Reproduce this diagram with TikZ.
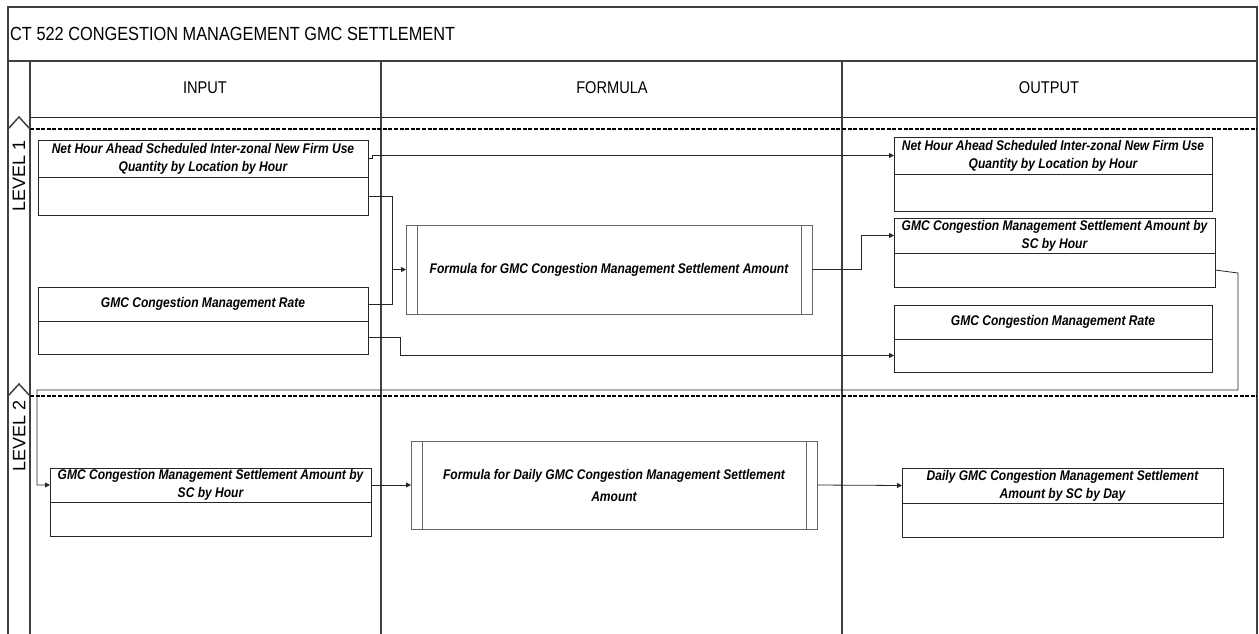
\documentclass[tikz,border=0pt]{standalone}
\usepackage{fontspec}
\setmainfont{Liberation Sans}[FakeStretch=0.86]
\newfontfamily\lvlfont{Liberation Sans}
\usetikzlibrary{arrows.meta}
\newcommand\boxfont{\fontsize{14}{18}\selectfont\bfseries\itshape}
\begin{document}
\begin{tikzpicture}[x=1pt,y=-1pt,
  lane/.style={draw=black!75, line width=1.5pt},
  sepline/.style={draw=black, line width=2.2pt, dash pattern=on 4pt off 1.6pt},
  dbox/.style={draw=black!85, line width=0.9pt, inner sep=1pt, outer sep=0pt, anchor=north west, align=center, font=\boxfont},
  fbox/.style={draw=black!60, line width=1pt, inner sep=1pt, outer sep=0pt, anchor=north west, align=center, font=\boxfont},
  conn/.style={draw=black!85, line width=0.8pt},
  arr/.style={conn, -{Triangle[length=5pt,width=5pt]}},
  hdr/.style={font=\fontsize{17}{20}\selectfont, inner sep=0pt},
  lvl/.style={font=\lvlfont\fontsize{18}{20}\selectfont, rotate=90, inner sep=0pt}
]
\useasboundingbox (0,0) rectangle (1259,634);
% frame
\draw[lane] (8,634) -- (8,7) -- (1257,7) -- (1257,634);
\draw[lane] (8,61) -- (1257,61);
\draw[draw=black!85, line width=1pt] (30,117) -- (1257,117);
\draw[lane] (30,61) -- (30,634);
\draw[lane] (381,61) -- (381,634);
\draw[lane] (842,61) -- (842,634);
\node[anchor=west, font=\fontsize{19}{22}\selectfont, inner sep=0pt] (title) at (10,34) {CT 522 CONGESTION MANAGEMENT GMC SETTLEMENT};
\node[hdr] (hin) at (205,88) {INPUT};
\node[hdr] (hfo) at (612,88) {FORMULA};
\node[hdr] (hout) at (1049,88) {OUTPUT};
% levels
\draw[sepline] (30,129) -- (1257,129);
\draw[sepline] (30,396) -- (1257,396);
\draw[lane, line join=miter] (8,129) -- (19,117) -- (30,129);
\draw[lane, line join=miter] (8,396) -- (19,384) -- (30,396);
\node[lvl] (lv1) at (19,176) {LEVEL 1};
\node[lvl] (lv2) at (19,436) {LEVEL 2};
% level 1 boxes
\node[dbox, minimum width=330pt, minimum height=37pt] (in1t) at (38,140) {Net Hour Ahead Scheduled Inter-zonal New Firm Use\\Quantity by Location by Hour};
\node[dbox, minimum width=330pt, minimum height=38pt] (in1b) at (in1t.south west) {};
\node[dbox, minimum width=330pt, minimum height=34pt] (in2t) at (38,287) {GMC Congestion Management Rate};
\node[dbox, minimum width=330pt, minimum height=33pt] (in2b) at (in2t.south west) {};
\node[fbox, minimum width=406pt, minimum height=89pt] (f1) at (406,225) {Formula for GMC Congestion Management Settlement Amount};
\draw[draw=black!60, line width=1pt] ([xshift=11pt]f1.north west) -- ([xshift=11pt]f1.south west);
\draw[draw=black!60, line width=1pt] ([xshift=-11pt]f1.north east) -- ([xshift=-11pt]f1.south east);
\node[dbox, minimum width=318pt, minimum height=37pt] (out1t) at (894,137) {Net Hour Ahead Scheduled Inter-zonal New Firm Use\\Quantity by Location by Hour};
\node[dbox, minimum width=318pt, minimum height=37pt] (out1b) at (out1t.south west) {};
\node[dbox, minimum width=321pt, minimum height=35pt] (out2t) at (894,218) {GMC Congestion Management Settlement Amount by\\SC by Hour};
\node[dbox, minimum width=321pt, minimum height=34pt] (out2b) at (out2t.south west) {};
\node[dbox, minimum width=318pt, minimum height=34pt] (out3t) at (894,305) {GMC Congestion Management Rate};
\node[dbox, minimum width=318pt, minimum height=33pt] (out3b) at (out3t.south west) {};
% level 2 boxes
\node[dbox, minimum width=321pt, minimum height=34pt] (in3t) at (50,468) {GMC Congestion Management Settlement Amount by\\SC by Hour};
\node[dbox, minimum width=321pt, minimum height=34pt] (in3b) at (in3t.south west) {};
\node[fbox, minimum width=406pt, minimum height=88pt, font=\fontsize{14}{22}\selectfont\bfseries\itshape] (f2) at (411,441) {Formula for Daily GMC Congestion Management Settlement\\Amount};
\draw[draw=black!60, line width=1pt] ([xshift=11pt]f2.north west) -- ([xshift=11pt]f2.south west);
\draw[draw=black!60, line width=1pt] ([xshift=-11pt]f2.north east) -- ([xshift=-11pt]f2.south east);
\node[dbox, minimum width=321pt, minimum height=35pt] (out4t) at (902,468) {Daily GMC Congestion Management Settlement\\Amount by SC by Day};
\node[dbox, minimum width=321pt, minimum height=34pt] (out4b) at (out4t.south west) {};
% connectors
\coordinate (j1) at (392,269.5);
\coordinate (c1) at (1238,273);
\coordinate (c2) at (37,390);
\draw[arr] (in1t.east) -- ++(4,0) |- (out1t.west);
\draw[arr] (in1b.east) -| (j1) -- (f1.west);
\draw[conn] (in2t.east) -| (j1);
\draw[arr] (in2b.east) -- ++(32,0) |- (out3b.west);
\draw[arr] (f1.east) -- ++(49,0) |- (out2t.west);
\draw[arr] (out2b.east) -- (c1) |- (c2) |- (in3t.west);
\draw[arr] (in3t.east) -- (f2.west);
\draw[arr] (f2.east) -- (out4t.west);
\end{tikzpicture}
\end{document}
